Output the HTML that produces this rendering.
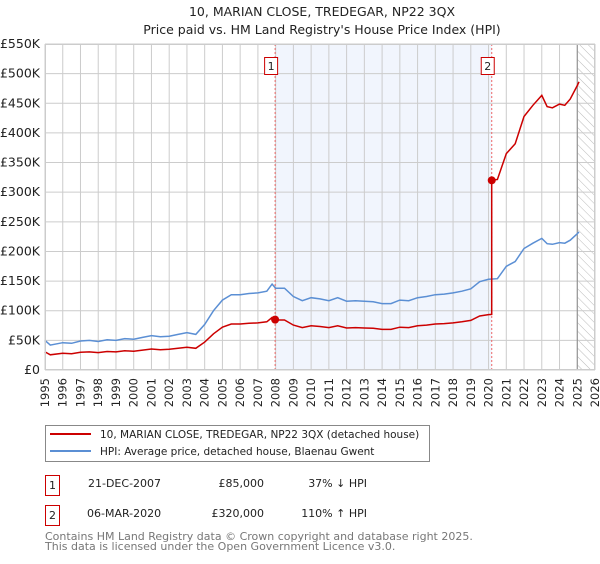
<!DOCTYPE html>
<html><head><meta charset="utf-8"><style>
body{margin:0;background:#fff;width:600px;height:560px;overflow:hidden;font-family:"DejaVu Sans","Liberation Sans",sans-serif}
</style></head><body>
<svg id="c" width="600" height="560" xmlns="http://www.w3.org/2000/svg" font-family="DejaVu Sans, Liberation Sans, sans-serif">
<defs><pattern id="hatch" width="6" height="6" patternUnits="userSpaceOnUse" patternTransform="rotate(-45)"><line x1="0" y1="0" x2="0" y2="6" stroke="#bbb" stroke-width="1"/></pattern></defs>
<text x="322" y="16" text-anchor="middle" font-size="12.5" fill="#222">10, MARIAN CLOSE, TREDEGAR, NP22 3QX</text>
<text x="322" y="34" text-anchor="middle" font-size="12.5" fill="#222">Price paid vs. HM Land Registry's House Price Index (HPI)</text>
<g id="plot"></g>
<g>
<rect x="45.5" y="425.5" width="384" height="36" fill="#fff" stroke="#888"/>
<line x1="50" y1="434" x2="91" y2="434" stroke="#cc0000" stroke-width="2"/>
<text x="100" y="438" font-size="10.5" fill="#222">10, MARIAN CLOSE, TREDEGAR, NP22 3QX (detached house)</text>
<line x1="50" y1="451" x2="91" y2="451" stroke="#5b8fd4" stroke-width="2"/>
<text x="100" y="455" font-size="10.5" fill="#222">HPI: Average price, detached house, Blaenau Gwent</text>
</g>
<g font-size="11" fill="#222">
<rect x="45.5" y="475.5" width="14" height="20" fill="#fff" stroke="#cc0000"/>
<text x="52.5" y="489" text-anchor="middle">1</text>
<text x="88" y="487">21-DEC-2007</text>
<text x="264" y="487" text-anchor="end">£85,000</text>
<text x="367" y="487" text-anchor="end">37% ↓ HPI</text>
<rect x="45.5" y="505.5" width="14" height="20" fill="#fff" stroke="#cc0000"/>
<text x="52.5" y="519" text-anchor="middle">2</text>
<text x="87" y="517">06-MAR-2020</text>
<text x="264" y="517" text-anchor="end">£320,000</text>
<text x="367" y="517" text-anchor="end">110% ↑ HPI</text>
</g>
<text x="45" y="540" font-size="11" fill="#777">Contains HM Land Registry data © Crown copyright and database right 2025.</text>
<text x="45" y="550" font-size="11" fill="#777">This data is licensed under the Open Government Licence v3.0.</text>
</svg>
<script>
const years=[1995,1995.3,1996,1996.5,1997,1997.5,1998,1998.5,1999,1999.5,2000,2000.5,2001,2001.5,2002,2002.5,2003,2003.5,2004,2004.5,2005,2005.5,2006,2006.5,2007,2007.5,2007.8,2008,2008.5,2009,2009.5,2010,2010.5,2011,2011.5,2012,2012.5,2013,2013.5,2014,2014.5,2015,2015.5,2016,2016.5,2017,2017.5,2018,2018.5,2019,2019.5,2020,2020.5,2021,2021.5,2022,2022.5,2023,2023.3,2023.6,2024,2024.3,2024.6,2025,2025.1];
const hpi=[50,42,46,45,49,50,48,51,50,53,52,55,58,56,57,60,63,60,77,100,118,127,127,129,130,133,145,138,138,124,117,122,120,117,122,116,117,116,115,112,112,118,117,122,124,127,128,130,133,137,149,153,154,175,183,205,214,222,213,212,215,214,219,230,233];
const saleYears=[2007.97,2020.18];
const salePrices=[85,320];
const saleLabels=["1","2"];
const yTicks=[0,50,100,150,200,250,300,350,400,450,500,550];
const yTickLabels=["£0","£50K","£100K","£150K","£200K","£250K","£300K","£350K","£400K","£450K","£500K","£550K"];
const xTicks=[1995,1996,1997,1998,1999,2000,2001,2002,2003,2004,2005,2006,2007,2008,2009,2010,2011,2012,2013,2014,2015,2016,2017,2018,2019,2020,2021,2022,2023,2024,2025,2026];
const dataEnd=2025.0;

const X0=45,X1=595,Y0=370,Y1=44;
const xs=v=>X0+(v-1995)/(2026-1995)*(X1-X0);
const ys=v=>Y0-v/550*(Y0-Y1);
const NS="http://www.w3.org/2000/svg";
const plot=document.getElementById('plot');
function mk(tag,attrs,parent){const e=document.createElementNS(NS,tag);for(const k in attrs)e.setAttribute(k,attrs[k]);(parent||plot).appendChild(e);return e;}
function interp(y){for(let i=1;i<years.length;i++){if(y<=years[i]){const t=(y-years[i-1])/(years[i]-years[i-1]);return hpi[i-1]+t*(hpi[i]-hpi[i-1]);}}return hpi[hpi.length-1];}

let e=mk('rect',{x:X0,y:Y1,width:X1-X0,height:Y0-Y1,fill:'#fff'});


e=mk('rect',{x:xs(saleYears[0]),y:Y1,width:xs(saleYears[1])-xs(saleYears[0]),height:Y0-Y1,fill:'#eef3fd',opacity:0.8});


e=mk('rect',{x:xs(dataEnd),y:Y1,width:X1-xs(dataEnd),height:Y0-Y1,fill:'url(#hatch)'});


xTicks.forEach(t=>{const l=mk('line',{x1:xs(t),x2:xs(t),y1:Y1,y2:Y0,stroke:'#ccc','stroke-width':1});


const tx=mk('text',{x:0,y:0,'font-size':11.5,fill:'#222','text-anchor':'end',transform:`translate(${xs(t)+4},${Y0+8}) rotate(-90)`});tx.textContent=t;

});
yTicks.forEach((t,i)=>{const l=mk('line',{x1:X0,x2:X1,y1:ys(t),y2:ys(t),stroke:'#ccc','stroke-width':1});


const tx=mk('text',{x:X0-5,y:ys(t)+4,'font-size':12.5,fill:'#222','text-anchor':'end'});tx.textContent=yTickLabels[i];

});
e=mk('line',{x1:xs(dataEnd),x2:xs(dataEnd),y1:Y1,y2:Y0,stroke:'#888','stroke-width':1});


saleYears.forEach((s,i)=>{const l=mk('line',{x1:xs(s),x2:xs(s),y1:Y1,y2:Y0,stroke:'#e66','stroke-width':1,'stroke-dasharray':'2,2'});

});
let d=years.map((y,i)=>(i?'L':'M')+xs(y).toFixed(1)+','+ys(hpi[i]).toFixed(1)).join('');
e=mk('path',{d:d,fill:'none',stroke:'#5b8fd4','stroke-width':1.5});


const f0=salePrices[0]/interp(saleYears[0]),f1=salePrices[1]/interp(saleYears[1]);
let pts=[];years.forEach((y,i)=>{if(y<saleYears[1])pts.push([y,hpi[i]*f0]);});
pts.push([saleYears[1],interp(saleYears[1])*f0]);pts.push([saleYears[1],salePrices[1]]);
years.forEach((y,i)=>{if(y>saleYears[1])pts.push([y,hpi[i]*f1]);});
d=pts.map((p,i)=>(i?'L':'M')+xs(p[0]).toFixed(1)+','+ys(p[1]).toFixed(1)).join('');
e=mk('path',{d:d,fill:'none',stroke:'#cc0000','stroke-width':1.5});


saleYears.forEach((s,i)=>{const c=mk('circle',{cx:xs(s),cy:ys(salePrices[i]),r:4,fill:'#cc0000'});


const b=mk('rect',{x:xs(s)-10.5,y:57.5,width:13,height:17,fill:'#fff',stroke:'#cc0000'});


const t=mk('text',{x:xs(s)-4,y:70,'font-size':11,fill:'#222','text-anchor':'middle'});t.textContent=saleLabels[i];

});
e=mk('rect',{x:X0+0.5,y:Y1+0.5,width:X1-X0-1,height:Y0-Y1-1,fill:'none',stroke:'#ccc'});


</script>
</body></html>
